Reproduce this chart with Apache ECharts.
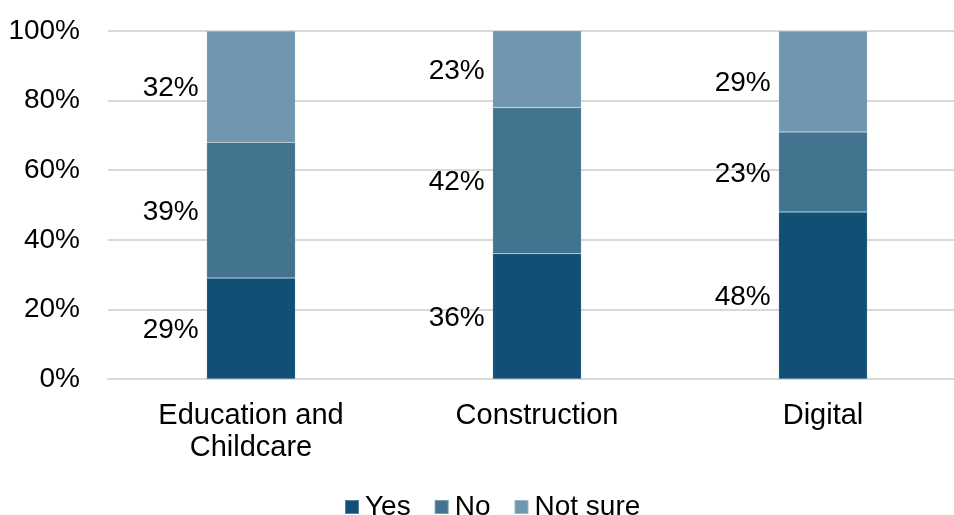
<!DOCTYPE html>
<html>
<head>
<meta charset="utf-8">
<script src="https://cdn.jsdelivr.net/npm/echarts@6/dist/echarts.min.js"></script>
<style>
  html, body { margin: 0; padding: 0; background: #fff; }
  #chart { width: 954px; height: 515px; }
</style>
</head>
<body>
<div id="chart"></div>
<script>
// Share of responses per sector (percent)
const categories = ['Education and\nChildcare', 'Construction', 'Digital'];
const yesValues = [29, 36, 48];
const noValues = [39, 42, 23];
const notSureValues = [32, 23, 29];
const seriesNames = ['Yes', 'No', 'Not sure'];
const yTicks = [0, 20, 40, 60, 80, 100];

const colors = ['#124F74', '#42738F', '#7196AF'];
const fontFamily = 'Liberation Sans, Arial, sans-serif';

function makeSeries(name, values, color) {
  return {
    name: name,
    type: 'bar',
    stack: 'total',
    barWidth: '31%',
    data: values,
    itemStyle: { color: color, borderColor: 'rgba(255,255,255,0.3)', borderWidth: 0.5 },
    label: {
      show: true,
      position: 'left',
      distance: 8,
      offset: [0, 2],
      formatter: p => p.value + '%',
      color: '#000',
      fontSize: 28,
      fontFamily: fontFamily
    }
  };
}

const chart = echarts.init(document.getElementById('chart'), null, { renderer: 'canvas' });
chart.setOption({
  animation: false,
  grid: {
    left: 108, width: 858, top: 31, bottom: 136,
    containLabel: false,
    outerBoundsMode: 'none'
  },
  legend: {
    data: seriesNames,
    left: 339,
    top: 488,
    itemWidth: 14,
    itemHeight: 14,
    itemGap: 23,
    icon: 'rect',
    textStyle: { fontSize: 28, fontFamily: fontFamily, color: '#000', padding: [0, 0, 0, 1] }
  },
  xAxis: {
    type: 'category',
    data: categories,
    axisTick: { show: false },
    axisLine: { show: true, lineStyle: { color: '#d9d9d9', width: 2 } },
    axisLabel: {
      fontSize: 29,
      fontFamily: fontFamily,
      color: '#000',
      margin: 21,
      lineHeight: 32,
      interval: 0
    }
  },
  yAxis: {
    type: 'value',
    min: yTicks[0],
    max: yTicks[yTicks.length - 1],
    interval: 20,
    axisLine: { show: false },
    axisTick: { show: false },
    splitLine: { lineStyle: { color: '#d9d9d9', width: 2 } },
    axisLabel: {
      formatter: v => v + '%',
      fontSize: 28,
      fontFamily: fontFamily,
      color: '#000',
      margin: 28
    }
  },
  series: [
    makeSeries(seriesNames[0], yesValues, colors[0]),
    makeSeries(seriesNames[1], noValues, colors[1]),
    makeSeries(seriesNames[2], notSureValues, colors[2])
  ]
});
</script>
</body>
</html>
